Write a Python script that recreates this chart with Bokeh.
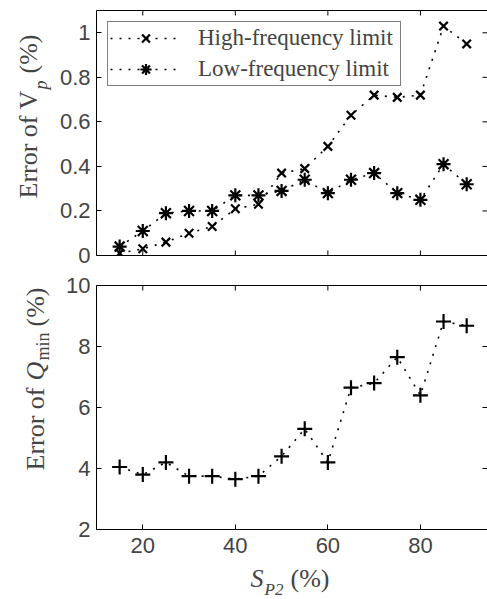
import math
from bokeh.plotting import figure
from bokeh.models import (LinearAxis, Range1d, Label, Legend, LegendItem,
                          FixedTicker, CustomJSTickFormatter)
from bokeh.layouts import column, row
from bokeh.embed import file_html
from bokeh.resources import INLINE

# ---- data ----
sp2 = [15, 20, 25, 30, 35, 40, 45, 50, 55, 60, 65, 70, 75, 80, 85, 90]
vp_high = [0.01, 0.03, 0.06, 0.10, 0.13, 0.21, 0.23, 0.37, 0.39, 0.49,
           0.63, 0.72, 0.71, 0.72, 1.03, 0.95]
vp_low = [0.04, 0.11, 0.19, 0.20, 0.20, 0.27, 0.27, 0.29, 0.34, 0.28,
          0.34, 0.37, 0.28, 0.25, 0.41, 0.32]
q_min = [4.05, 3.80, 4.20, 3.75, 3.75, 3.65, 3.75, 4.40, 5.30, 4.20,
         6.65, 6.80, 7.65, 6.40, 8.82, 8.68]
x_ticks = [20, 40, 60, 80]
vp_ticks = [0, 0.2, 0.4, 0.6, 0.8, 1]
q_ticks = [2, 4, 6, 8, 10]
legend_labels = ["High-frequency limit", "Low-frequency limit"]
X_RANGE = (10, 94.5)
VP_RANGE = (0, 1.1)
Q_RANGE = (2, 10)

SANS = "Liberation Sans"
SERIF = "Liberation Serif"
TICK_SIZE = "22px"
LBL = "26px"
SUB = "18px"
DASH = "2 7"
A = math.pi / 2

LW = 52          # width of the y-label strips
H1 = 270         # height of the top row
H2 = 292         # height of the bottom row
H3 = 599 - H1 - H2  # x-label strip

fmt = CustomJSTickFormatter(code="return String(tick);")


def make_fig(height, yr, yticks, btop, bbot, xlabels):
    p = figure(width=487 - LW, height=height, x_range=Range1d(*X_RANGE),
               y_range=Range1d(*yr), output_backend="svg",
               toolbar_location=None, x_axis_location=None,
               y_axis_location=None, min_border_left=96 - LW,
               min_border_right=0, min_border_top=btop,
               min_border_bottom=bbot)
    p.outline_line_color = None
    p.xgrid.visible = False
    p.ygrid.visible = False
    common = dict(major_tick_in=5, major_tick_out=0, minor_tick_line_color=None,
                  axis_line_color="black", major_tick_line_color="black",
                  axis_line_width=1)
    left = LinearAxis(ticker=FixedTicker(ticks=yticks), formatter=fmt,
                      major_label_text_font=SANS,
                      major_label_text_font_size=TICK_SIZE,
                      major_label_standoff=6, **common)
    p.add_layout(left, "left")
    if xlabels:
        bottom = LinearAxis(ticker=FixedTicker(ticks=x_ticks), formatter=fmt,
                            major_label_text_font=SANS,
                            major_label_text_font_size=TICK_SIZE,
                            major_label_standoff=8, **common)
    else:
        bottom = LinearAxis(ticker=FixedTicker(ticks=[]), **common)
        p.scatter(x_ticks, [yr[0]] * len(x_ticks), marker="dash", angle=A,
                  size=10, line_width=1, color="black")
    p.add_layout(bottom, "below")
    top = LinearAxis(ticker=FixedTicker(ticks=[]), **common)
    p.add_layout(top, "above")
    # inward tick marks on the top and right edges
    p.scatter(x_ticks, [yr[1]] * len(x_ticks), marker="dash", angle=A,
              size=10, line_width=1, color="black")
    p.scatter([X_RANGE[1]] * len(yticks), yticks, marker="dash",
              size=10, line_width=1, color="black")
    return p


def strip(width, height):
    s = figure(width=width, height=height, x_range=Range1d(0, 1),
               y_range=Range1d(0, 1), output_backend="svg",
               toolbar_location=None, x_axis_location=None,
               y_axis_location=None, min_border=0)
    s.outline_line_color = None
    s.xgrid.visible = False
    s.ygrid.visible = False
    return s


def lab(p, x, y, text, size=LBL, style="normal", angle=0.0):
    p.add_layout(Label(x=x, y=y, x_units="screen", y_units="screen",
                       text=text, angle=angle, text_font=SERIF,
                       text_font_style=style, text_font_size=size,
                       text_align="left", text_baseline="alphabetic"))


# ---- top panel ----
p1 = make_fig(H1, VP_RANGE, vp_ticks, 10, 15, False)
l1 = p1.line(sp2, vp_high, line_dash=DASH, line_width=1.6, color="black")
s1 = p1.scatter(sp2, vp_high, marker="x", size=12, line_width=2.2, color="black")
l2 = p1.line(sp2, vp_low, line_dash=DASH, line_width=1.6, color="black")
s2 = p1.scatter(sp2, vp_low, marker="asterisk", size=14, line_width=2.2, color="black")
leg = Legend(items=[LegendItem(label=legend_labels[0], renderers=[l1, s1]),
                    LegendItem(label=legend_labels[1], renderers=[l2, s2])],
             location="top_left", margin=11, padding=2, spacing=3,
             glyph_width=71, glyph_height=28, label_height=28,
             label_standoff=17, label_width=200, label_text_font=SERIF,
             label_text_font_size="23px", border_line_color="black",
             border_line_width=1, background_fill_color="white")
p1.add_layout(leg)

# y-label strips: screen units measured from the strip's bottom-left corner
y1 = strip(LW, H1)
lab(y1, 28, H1 - 213, "Error of V", angle=A)
lab(y1, 40, H1 - 104, "p", size=SUB, style="italic", angle=A)
lab(y1, 28, H1 - 88, "(%)", angle=A)

# ---- bottom panel ----
p2 = make_fig(H2, Q_RANGE, q_ticks, 15, H2 - 15 - 244, True)
p2.line(sp2, q_min, line_dash=DASH, line_width=1.6, color="black")
p2.scatter(sp2, q_min, marker="cross", size=15, line_width=2.2, color="black")

y2 = strip(LW, H2)
B2 = H1 + H2  # page y of the bottom of the second row
lab(y2, 35, B2 - 503, "Error of", angle=A)
lab(y2, 35, B2 - 413, "Q", style="italic", angle=A)
lab(y2, 42, B2 - 393, "min", size=SUB, angle=A)
lab(y2, 35, B2 - 359, "(%)", angle=A)

# ---- x-label strip ----
x3 = strip(487, H3)
lab(x3, 250, 599 - 578, "S", style="italic")
lab(x3, 264, 599 - 589, "P2", size="17px", style="italic")
lab(x3, 290, 599 - 578, "(%)")

layout = column(row(y1, p1, spacing=0), row(y2, p2, spacing=0), x3, spacing=0)
open("out.html", "w").write(file_html(layout, INLINE))
